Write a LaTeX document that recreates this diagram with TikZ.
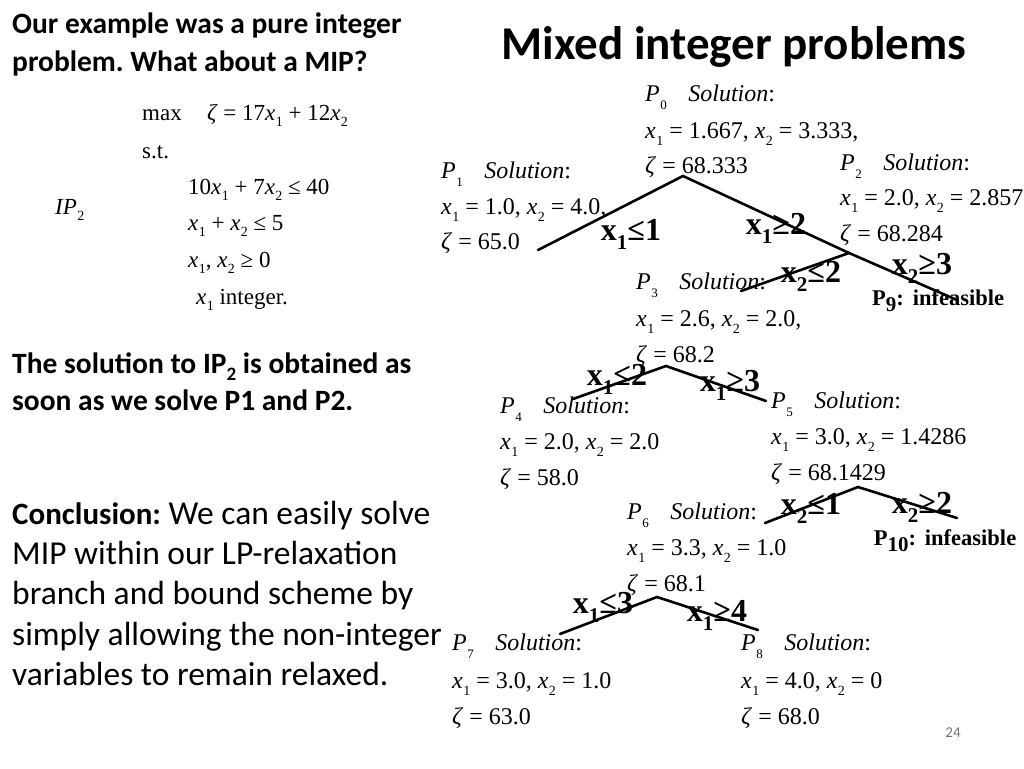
\documentclass[tikz,border=0pt]{standalone}
\usepackage{fontspec}
\setmainfont{Liberation Serif}
\newfontfamily\calib{Carlito}
\frenchspacing
\newcommand\Sub[1]{\kern0.4pt\raisebox{-0.3em}{\fontsize{14}{14}\selectfont #1}}
\newcommand\PSub[1]{\kern0.4pt\raisebox{-0.35em}{\fontsize{13}{13}\selectfont #1}}
\newcommand\BSub[1]{\raisebox{-0.28em}{\fontsize{21}{21}\selectfont\bfseries #1}}
\newcommand\Vx[1]{\textit{x}\Sub{#1}}
\newcommand\Ze{\textit{ζ}}
\newcommand\Psol[1]{\textit{P}\PSub{#1}\hspace{0.9em}\textit{Solution}:}
\begin{document}
\begin{tikzpicture}[x=1pt,y=-1pt,
  sol/.style={anchor=base west, inner sep=0pt, font=\fontsize{24}{24}\selectfont},
  frm/.style={anchor=base west, inner sep=0pt, font=\fontsize{23}{23}\selectfont},
  brl/.style={anchor=center, inner sep=0pt, font=\fontsize{32}{32}\selectfont\bfseries},
  inf/.style={anchor=center, inner sep=0pt, font=\fontsize{22.5}{22.5}\selectfont\bfseries},
  edge/.style={line width=2.6pt, line cap=round},
  lbold/.style={anchor=base west, inner sep=0pt, font=\calib\fontsize{29.5}{29.5}\selectfont\bfseries},
  lreg/.style={anchor=base west, inner sep=0pt, font=\calib\fontsize{33.5}{33.5}\selectfont},
  ttl/.style={anchor=center, inner sep=0pt, font=\calib\fontsize{47}{47}\selectfont\bfseries},
  pgno/.style={anchor=center, inner sep=0pt, text=black!55, font=\calib\fontsize{15}{15}\selectfont}]
\useasboundingbox (0,0) rectangle (1024,768);
\fill[white] (0,0) rectangle (1024,768);

% ---------- left text ----------
\node[lbold] (q1) at (12,34) {Our example was a pure integer};
\node[lbold] (q2) at (12,71) {problem. What about a MIP?};
\node[ttl] (title) at (734,47) {Mixed integer problems};

\node[frm] (fmax) at (142,120) {max\hspace{1.1em}\Ze{} = 17\Vx{1} + 12\Vx{2}};
\node[frm] (fst) at (142,158) {s.t.};
\node[frm] (fc1) at (188,194) {10\Vx{1} + 7\Vx{2} ≤ 40};
\node[frm] (fip) at (55,214) {\textit{IP}\Sub{2}};
\node[frm] (fc2) at (188,230) {\Vx{1} + \Vx{2} ≤ 5};
\node[frm] (fc3) at (188,267) {\Vx{1}, \Vx{2} ≥ 0};
\node[frm] (fc4) at (196,304) {\Vx{1} integer.};

\node[lbold] (s1) at (12,373) {The solution to IP\raisebox{-0.25em}{\fontsize{19}{19}\selectfont 2} is obtained as};
\node[lbold] (s2) at (12,410) {soon as we solve P1 and P2.};

\node[lreg] (c1) at (12,524) {{\fontsize{31}{31}\selectfont\bfseries Conclusion:} We can easily solve};
\node[lreg] (c2) at (12,564) {MIP within our LP-relaxation};
\node[lreg] (c3) at (12,604) {branch and bound scheme by};
\node[lreg] (c4) at (12,645) {simply allowing the non-integer};
\node[lreg] (c5) at (12,685) {variables to remain relaxed.};

% ---------- solution blocks ----------
\node[sol] (p0a) at (645,101) {\Psol{0}};
\node[sol] (p0b) at (645,138) {\Vx{1} = 1.667, \Vx{2} = 3.333,};
\node[sol] (p0c) at (645,173) {\Ze{} = 68.333};

\node[sol] (p1a) at (441,178) {\Psol{1}};
\node[sol] (p1b) at (441,214) {\Vx{1} = 1.0, \Vx{2} = 4.0,};
\node[sol] (p1c) at (441,249) {\Ze{} = 65.0};

\node[sol] (p2a) at (840,170) {\Psol{2}};
\node[sol] (p2b) at (840,205) {\Vx{1} = 2.0, \Vx{2} = 2.857,};
\node[sol] (p2c) at (840,241) {\Ze{} = 68.284};

\node[sol] (p3a) at (636,289) {\Psol{3}};
\node[sol] (p3b) at (636,326) {\Vx{1} = 2.6, \Vx{2} = 2.0,};
\node[sol] (p3c) at (636,362) {\Ze{} = 68.2};

\node[sol] (p4a) at (500,413) {\Psol{4}};
\node[sol] (p4b) at (500,449) {\Vx{1} = 2.0, \Vx{2} = 2.0};
\node[sol] (p4c) at (500,485) {\Ze{} = 58.0};

\node[sol] (p5a) at (771,408) {\Psol{5}};
\node[sol] (p5b) at (771,444) {\Vx{1} = 3.0, \Vx{2} = 1.4286};
\node[sol] (p5c) at (771,480) {\Ze{} = 68.1429};

\node[sol] (p6a) at (627,519) {\Psol{6}};
\node[sol] (p6b) at (627,555) {\Vx{1} = 3.3, \Vx{2} = 1.0};
\node[sol] (p6c) at (627,591) {\Ze{} = 68.1};

\node[sol] (p7a) at (452,650) {\Psol{7}};
\node[sol] (p7b) at (452,688) {\Vx{1} = 3.0, \Vx{2} = 1.0};
\node[sol] (p7c) at (452,724) {\Ze{} = 63.0};

\node[sol] (p8a) at (741,650) {\Psol{8}};
\node[sol] (p8b) at (741,688) {\Vx{1} = 4.0, \Vx{2} = 0};
\node[sol] (p8c) at (741,724) {\Ze{} = 68.0};

% ---------- tree edges ----------
\coordinate (t0) at (683,176);
\coordinate (t0l) at (538,250);
\coordinate (t2) at (849,253);
\coordinate (t2r) at (957,300);
\coordinate (t3l) at (741,291);
\draw[edge] (t0l) -- (t0) -- (t2) -- (t2r);
\draw[edge] (t3l) -- (t2);

\coordinate (t3) at (666,366);
\coordinate (t4e) at (573,399);
\coordinate (t5e) at (766,401);
\draw[edge] (t4e) -- (t3) -- (t5e);

\coordinate (t5) at (858,487);
\coordinate (t6e) at (765,523);
\coordinate (t10e) at (957,518);
\draw[edge] (t6e) -- (t5) -- (t10e);

\coordinate (t6) at (657,597);
\coordinate (t7e) at (560,634);
\coordinate (t8e) at (758,630);
\draw[edge] (t7e) -- (t6) -- (t8e);

% ---------- branch labels ----------
\node[brl] (b1) at (631,234) {x\BSub{1}≤1};
\node[brl] (b2) at (776,228) {x\BSub{1}≥2};
\node[brl] (b3) at (811,276) {x\BSub{2}≤2};
\node[brl] (b4) at (922,268) {x\BSub{2}≥3};
\node[inf] (p9) at (938,301) {P\BSub{9}:\hspace{0.4em}infeasible};
\node[brl] (b5) at (617,379) {x\BSub{1}≤2};
\node[brl] (b6) at (730,385) {x\BSub{1}≥3};
\node[brl] (b7) at (811,508) {x\BSub{2}≤1};
\node[brl] (b8) at (922,507) {x\BSub{2}≥2};
\node[inf] (p10) at (945,541) {P\BSub{10}:\hspace{0.4em}infeasible};
\node[brl] (b9) at (603,607) {x\BSub{1}≤3};
\node[brl] (b10) at (717,615) {x\BSub{1}≥4};

\node[pgno] (pg) at (953,733) {24};
\end{tikzpicture}
\end{document}
